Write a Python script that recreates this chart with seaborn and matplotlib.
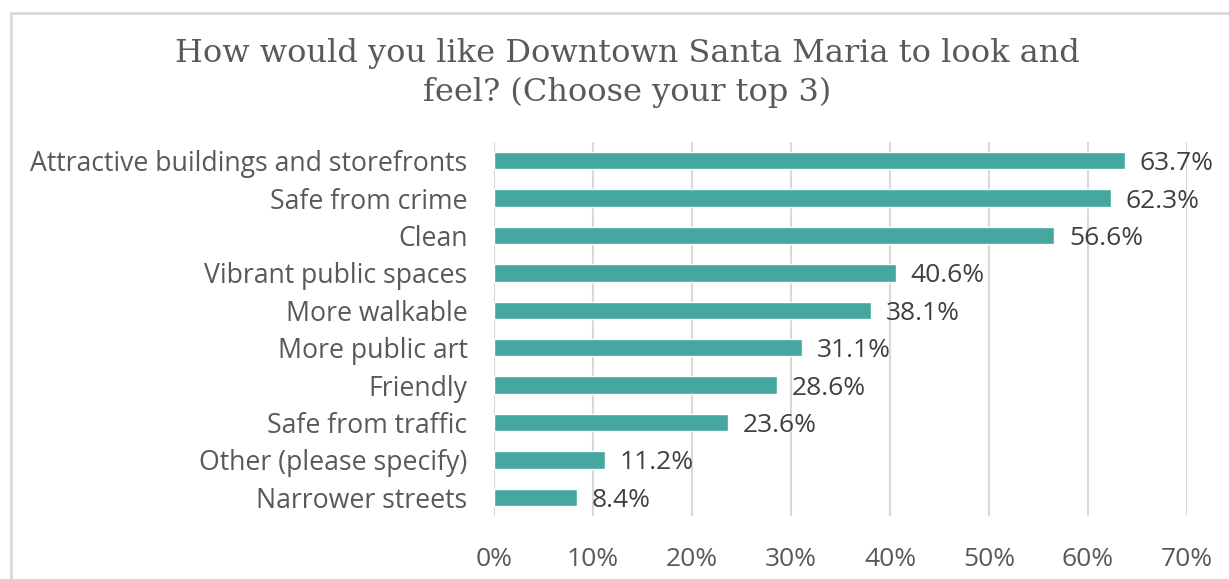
import matplotlib
matplotlib.use("Agg")
import matplotlib.pyplot as plt
import matplotlib.patches as mpatches
import seaborn as sns
import pandas as pd

categories = [
    "Attractive buildings and storefronts",
    "Safe from crime",
    "Clean",
    "Vibrant public spaces",
    "More walkable",
    "More public art",
    "Friendly",
    "Safe from traffic",
    "Other (please specify)",
    "Narrower streets",
]
shares = [63.7, 62.3, 56.6, 40.6, 38.1, 31.1, 28.6, 23.6, 11.2, 8.4]
x_ticks = [0, 10, 20, 30, 40, 50, 60, 70]
title = "How would you like Downtown Santa Maria to look and\nfeel? (Choose your top 3)"

df = pd.DataFrame({"category": categories, "share": shares})

sns.set_theme(style="white")
plt.rcParams["font.family"] = ["Open Sans", "DejaVu Sans"]

bar_color = "#46A6A0"
text_color = "#595959"
grid_color = "#D9D9D9"

fig = plt.figure(figsize=(12.29, 5.79), dpi=100)
ax = fig.add_axes([494 / 1229, 63 / 579, (1187 - 494) / 1229, (516 - 142) / 579])

sns.barplot(data=df, x="share", y="category", color=bar_color, width=0.46,
            saturation=1, ax=ax, zorder=3)

ax.set_xlim(0, 70)
ax.set_ylim(9.5, -0.5)
ax.set_xticks(x_ticks)
ax.set_xticklabels([f"{t}%" for t in x_ticks], fontsize=19, color=text_color)
ax.tick_params(axis="y", labelsize=19.2, labelcolor=text_color, length=0, pad=19)
ax.tick_params(axis="x", length=0, pad=22)
ax.set_xlabel("")
ax.set_ylabel("")

ax.grid(axis="x", color=grid_color, linewidth=1.5, zorder=0)
ax.grid(axis="y", visible=False)
for side in ["top", "right", "bottom", "left"]:
    ax.spines[side].set_visible(False)

for i, v in enumerate(shares):
    ax.text(v + 1.5, i + 0.08, f"{v:.1f}%", va="center", ha="left",
            fontsize=19, color="#404040", zorder=4)

fig.text(627 / 1229, 1 - 73 / 579, title, ha="center", va="center",
         fontsize=23, color=text_color, family="DejaVu Serif",
         linespacing=1.3)

# light frame around the chart area
frame = mpatches.Rectangle((11 / 1229, -0.1), 1.2, 1 - 13 / 579 + 0.1,
                           transform=fig.transFigure, fill=False,
                           edgecolor=grid_color, linewidth=2)
fig.patches.append(frame)

fig.savefig("out.png", dpi=100)
